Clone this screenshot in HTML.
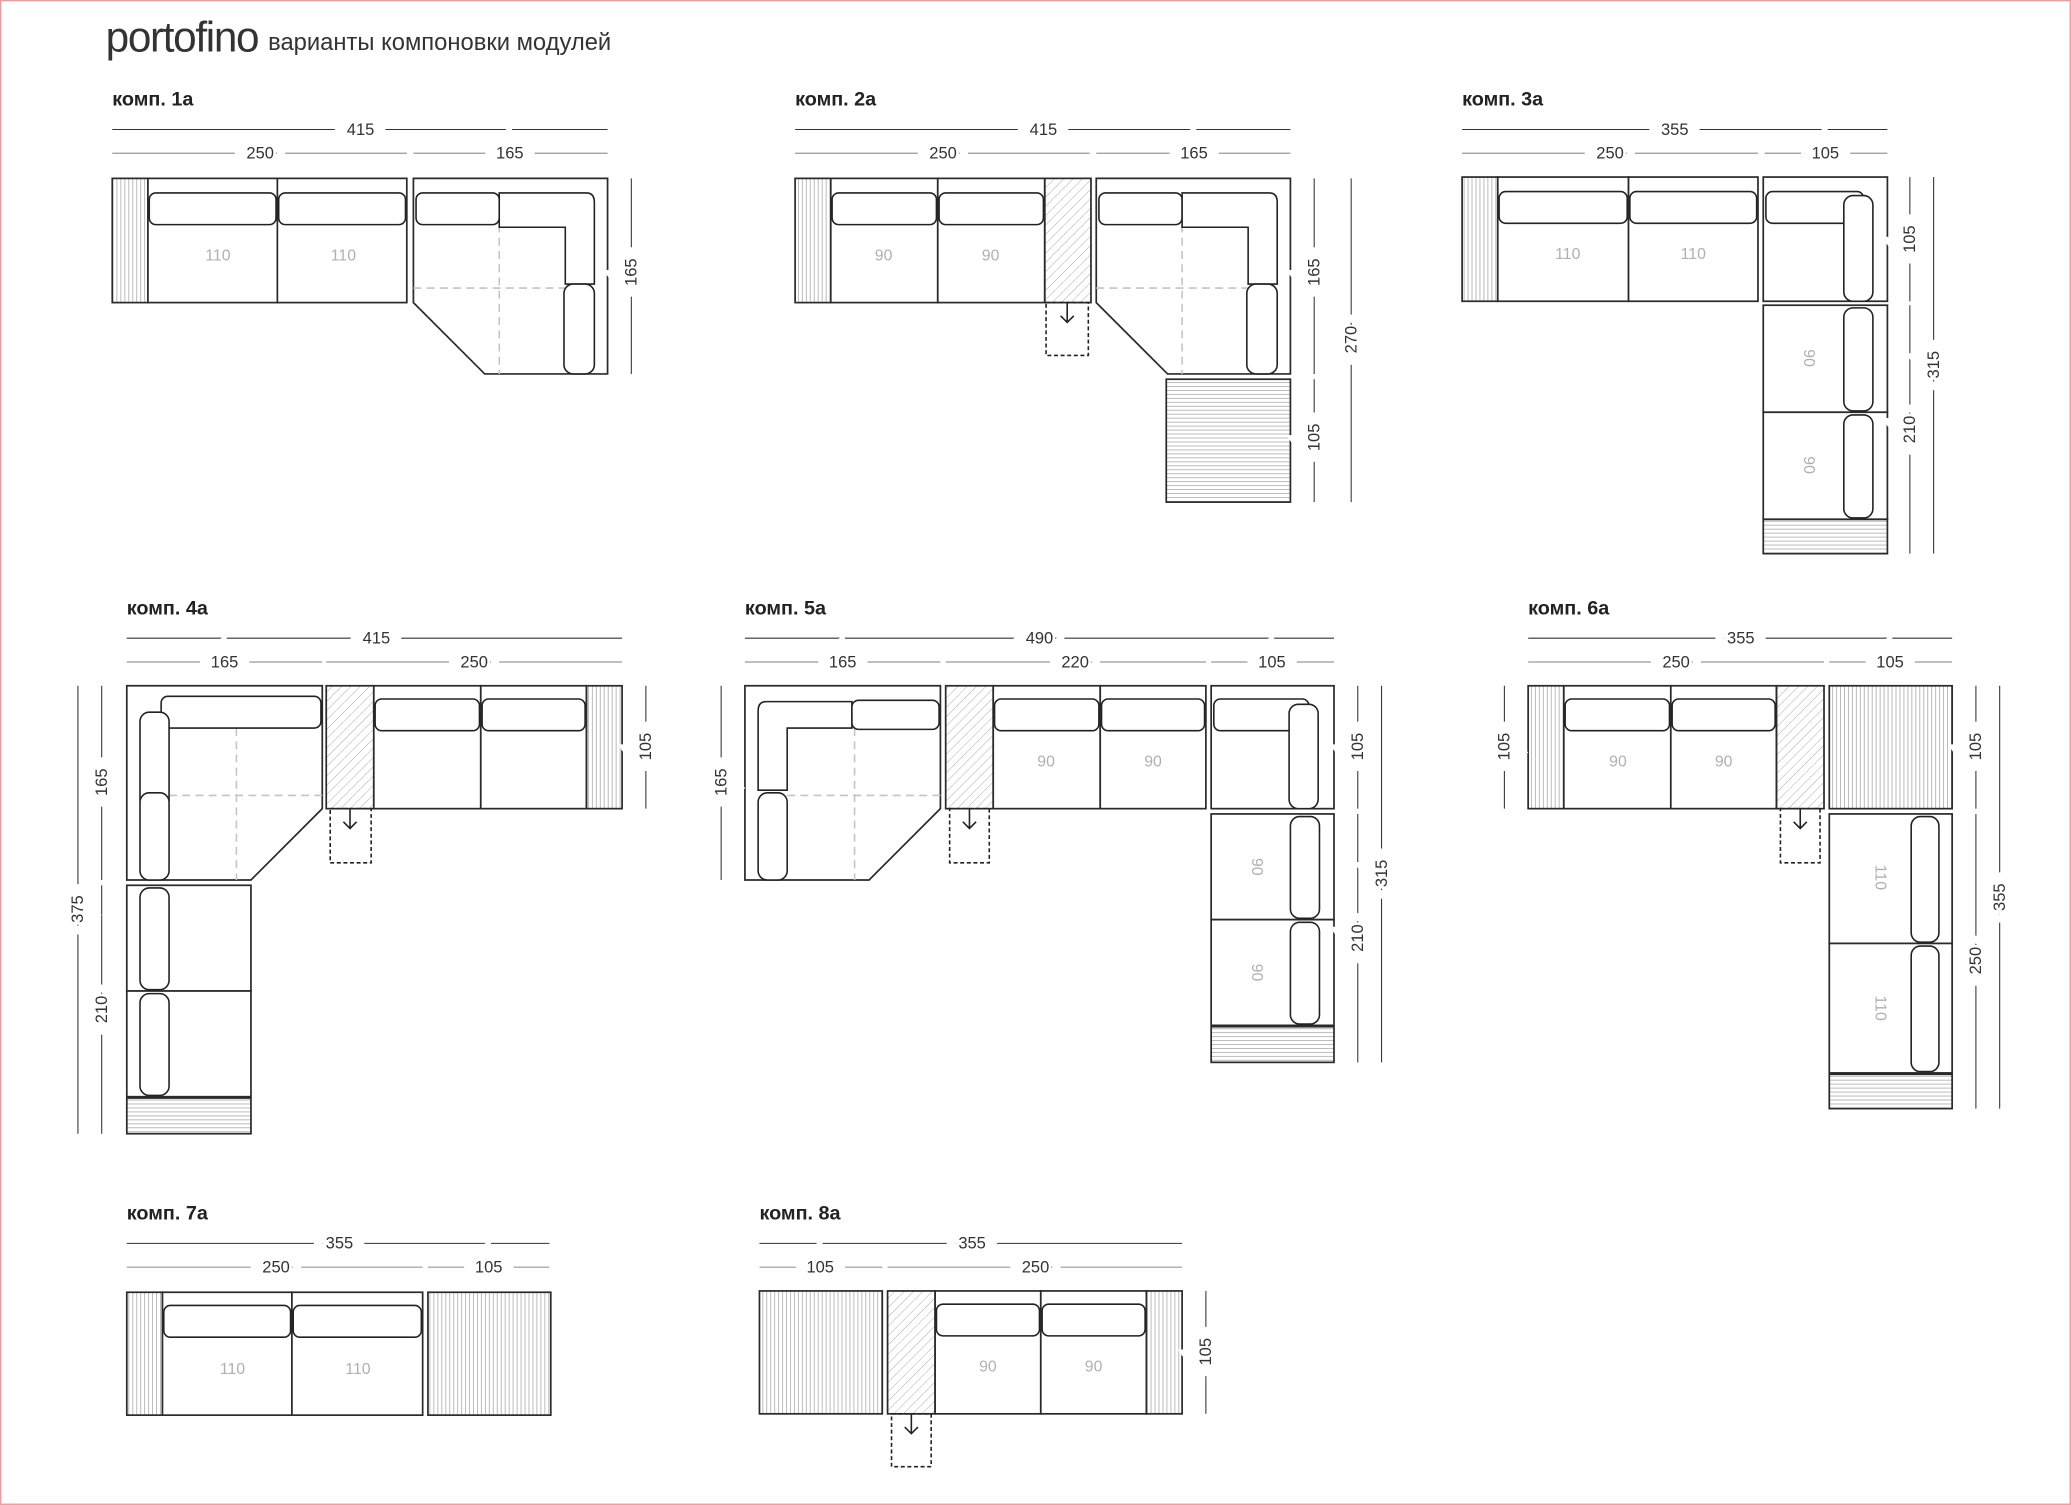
<!DOCTYPE html>
<html><head><meta charset="utf-8"><style>
html,body{margin:0;padding:0;background:#fff}
svg{display:block}
.m{fill:#fff;stroke:#2a2a2a;stroke-width:1.3}
.c{fill:#fff;stroke:#222;stroke-width:1.2}
.dd{stroke:#c4c4c4;stroke-width:1.2;stroke-dasharray:6 4;fill:none}
.d1{stroke:#333;stroke-width:0.8}
.d2{stroke:#999;stroke-width:0.9}
.t{font-family:"Liberation Sans",sans-serif;font-size:12.5px;fill:#333;text-anchor:middle}
.s{font-family:"Liberation Sans",sans-serif;font-size:12px;fill:#b0b0b0;text-anchor:middle}
.h{font-family:"Liberation Sans",sans-serif;font-size:15px;font-weight:bold;fill:#222}
.dr{fill:none;stroke:#222;stroke-width:1.2;stroke-dasharray:3 2}
.ar{fill:none;stroke:#222;stroke-width:1.2}
</style></head><body>
<svg width="2071" height="1505" viewBox="0 0 1568 1139" preserveAspectRatio="none" xmlns="http://www.w3.org/2000/svg">
<defs>
<pattern id="pv" patternUnits="userSpaceOnUse" width="3" height="3"><line x1="1.5" y1="0" x2="1.5" y2="3" stroke="#aaa" stroke-width="0.6"/></pattern>
<pattern id="ph" patternUnits="userSpaceOnUse" width="3" height="3"><line x1="0" y1="1.5" x2="3" y2="1.5" stroke="#aaa" stroke-width="0.6"/></pattern>
<pattern id="pd" patternUnits="userSpaceOnUse" width="5" height="5" patternTransform="rotate(45)"><line x1="0" y1="0" x2="0" y2="5" stroke="#999" stroke-width="0.6"/></pattern>
</defs>
<rect x="0.5" y="0.5" width="1567" height="1138" fill="none" stroke="#e8a0a0" stroke-width="1.2"/>
<text x="80" y="39" font-family="Liberation Sans,sans-serif" font-size="32" fill="#333" font-weight="normal" style="letter-spacing:-1px">portofino</text>
<text x="203" y="38" font-family="Liberation Sans,sans-serif" font-size="18" fill="#333">варианты компоновки модулей</text>

<!-- ===== 1a ===== -->
<text class="h" x="85" y="80">комп. 1а</text>
<line class="d1" x1="85" y1="98" x2="460" y2="98"/><text class="t" x="273" y="102" stroke="#fff" stroke-width="18" paint-order="stroke">415</text>
<line class="d2" x1="85" y1="116" x2="308" y2="116"/><line class="d2" x1="313" y1="116" x2="460" y2="116"/>
<text class="t" x="197" y="120" stroke="#fff" stroke-width="18" paint-order="stroke">250</text><text class="t" x="386" y="120" stroke="#fff" stroke-width="18" paint-order="stroke">165</text>
<rect class="m" x="85" y="135" width="27" height="94" fill="url(#pv)" style="fill:url(#pv)"/>
<rect class="m" x="112" y="135" width="98" height="94"/><rect class="m" x="210" y="135" width="98" height="94"/>
<rect class="c" x="113" y="146" width="96" height="24" rx="5"/><rect class="c" x="211" y="146" width="96" height="24" rx="5"/>
<text class="s" x="165" y="197">110</text><text class="s" x="260" y="197">110</text>
<path class="m" d="M313,135H460V283H367L313,229Z"/>
<line class="dd" x1="313" y1="218" x2="428" y2="218"/><line class="dd" x1="378" y1="170" x2="378" y2="283"/>
<rect class="c" x="315" y="146" width="63" height="24" rx="5"/>
<path class="c" d="M378,146H444Q450,146 450,153V215H428V172H378Z"/>
<rect class="c" x="427" y="215" width="23" height="68" rx="7"/>
<line class="d1" x1="478" y1="135" x2="478" y2="283"/><text class="t" transform="translate(482,206) rotate(-90)" stroke="#fff" stroke-width="18" paint-order="stroke">165</text>

<!-- ===== 2a ===== -->
<text class="h" x="602" y="80">комп. 2а</text>
<line class="d1" x1="602" y1="98" x2="977" y2="98"/><text class="t" x="790" y="102" stroke="#fff" stroke-width="18" paint-order="stroke">415</text>
<line class="d2" x1="602" y1="116" x2="825" y2="116"/><line class="d2" x1="830" y1="116" x2="977" y2="116"/>
<text class="t" x="714" y="120" stroke="#fff" stroke-width="18" paint-order="stroke">250</text><text class="t" x="904" y="120" stroke="#fff" stroke-width="18" paint-order="stroke">165</text>
<rect class="m" x="602" y="135" width="27" height="94" style="fill:url(#pv)"/>
<rect class="m" x="629" y="135" width="81" height="94"/><rect class="m" x="710" y="135" width="81" height="94"/>
<rect class="c" x="630" y="146" width="79" height="24" rx="5"/><rect class="c" x="711" y="146" width="79" height="24" rx="5"/>
<text class="s" x="669" y="197">90</text><text class="s" x="750" y="197">90</text>
<rect class="m" x="791" y="135" width="35" height="94" style="fill:url(#pd)"/>
<rect class="dr" x="792" y="229" width="32" height="40"/><path class="ar" d="M808,229V244M803,239L808,244L813,239"/>
<path class="m" d="M830,135H977V283H884L830,229Z"/>
<line class="dd" x1="830" y1="218" x2="945" y2="218"/><line class="dd" x1="895" y1="170" x2="895" y2="283"/>
<rect class="c" x="832" y="146" width="63" height="24" rx="5"/>
<path class="c" d="M895,146H961Q967,146 967,153V215H945V172H895Z"/>
<rect class="c" x="944" y="215" width="23" height="68" rx="7"/>
<rect class="m" x="883" y="287" width="94" height="93" style="fill:url(#ph)"/>
<line class="d1" x1="995" y1="135" x2="995" y2="283"/><text class="t" transform="translate(999,206) rotate(-90)" stroke="#fff" stroke-width="18" paint-order="stroke">165</text>
<line class="d1" x1="995" y1="287" x2="995" y2="380"/><text class="t" transform="translate(999,331) rotate(-90)" stroke="#fff" stroke-width="18" paint-order="stroke">105</text>
<line class="d1" x1="1023" y1="135" x2="1023" y2="380"/><text class="t" transform="translate(1027,257) rotate(-90)" stroke="#fff" stroke-width="18" paint-order="stroke">270</text>

<!-- ===== 3a ===== -->
<text class="h" x="1107" y="80">комп. 3а</text>
<line class="d1" x1="1107" y1="98" x2="1429" y2="98"/><text class="t" x="1268" y="102" stroke="#fff" stroke-width="18" paint-order="stroke">355</text>
<line class="d2" x1="1107" y1="116" x2="1331" y2="116"/><line class="d2" x1="1336" y1="116" x2="1429" y2="116"/>
<text class="t" x="1219" y="120" stroke="#fff" stroke-width="18" paint-order="stroke">250</text><text class="t" x="1382" y="120" stroke="#fff" stroke-width="18" paint-order="stroke">105</text>
<rect class="m" x="1107" y="134" width="27" height="94" style="fill:url(#pv)"/>
<rect class="m" x="1134" y="134" width="99" height="94"/><rect class="m" x="1233" y="134" width="98" height="94"/>
<rect class="c" x="1135" y="145" width="97" height="24" rx="5"/><rect class="c" x="1234" y="145" width="96" height="24" rx="5"/>
<text class="s" x="1187" y="196">110</text><text class="s" x="1282" y="196">110</text>
<rect class="m" x="1335" y="134" width="94" height="94"/>
<rect class="c" x="1337" y="145" width="74" height="24" rx="5"/>
<rect class="c" x="1396" y="148" width="22" height="80" rx="7"/>
<rect class="m" x="1335" y="231" width="94" height="81"/><rect class="m" x="1335" y="312" width="94" height="81"/>
<rect class="c" x="1396" y="233" width="22" height="78" rx="7"/><rect class="c" x="1396" y="314" width="22" height="78" rx="7"/>
<text class="s" transform="translate(1366,271) rotate(90)">90</text><text class="s" transform="translate(1366,352) rotate(90)">90</text>
<rect class="m" x="1335" y="393" width="94" height="26" style="fill:url(#ph)"/>
<line class="d1" x1="1446" y1="134" x2="1446" y2="228"/><text class="t" transform="translate(1450,181) rotate(-90)" stroke="#fff" stroke-width="18" paint-order="stroke">105</text>
<line class="d1" x1="1446" y1="231" x2="1446" y2="419"/><text class="t" transform="translate(1450,325) rotate(-90)" stroke="#fff" stroke-width="18" paint-order="stroke">210</text>
<line class="d1" x1="1464" y1="134" x2="1464" y2="419"/><text class="t" transform="translate(1468,276) rotate(-90)" stroke="#fff" stroke-width="18" paint-order="stroke">315</text>

<!-- ===== 4a ===== -->
<text class="h" x="96" y="465">комп. 4а</text>
<line class="d1" x1="96" y1="483" x2="471" y2="483"/><text class="t" x="285" y="487" stroke="#fff" stroke-width="18" paint-order="stroke">415</text>
<line class="d2" x1="96" y1="501" x2="244" y2="501"/><line class="d2" x1="247" y1="501" x2="471" y2="501"/>
<text class="t" x="170" y="505" stroke="#fff" stroke-width="18" paint-order="stroke">165</text><text class="t" x="359" y="505" stroke="#fff" stroke-width="18" paint-order="stroke">250</text>
<path class="m" d="M96,519H244V612L190,666H96Z"/>
<line class="dd" x1="128" y1="602" x2="244" y2="602"/><line class="dd" x1="179" y1="551" x2="179" y2="666"/>
<rect class="c" x="122" y="527" width="121" height="24" rx="5"/>
<rect class="c" x="106" y="539" width="22" height="73" rx="7"/><rect class="c" x="106" y="600" width="22" height="66" rx="7"/>
<rect class="m" x="247" y="519" width="36" height="93" style="fill:url(#pd)"/>
<rect class="dr" x="250" y="612" width="31" height="41"/><path class="ar" d="M265,612V627M260,622L265,627L270,622"/>
<rect class="m" x="283" y="519" width="81" height="93"/><rect class="m" x="364" y="519" width="80" height="93"/>
<rect class="c" x="284" y="529" width="79" height="24" rx="5"/><rect class="c" x="365" y="529" width="78" height="24" rx="5"/>
<rect class="m" x="444" y="519" width="27" height="93" style="fill:url(#pv)"/>
<line class="d1" x1="489" y1="519" x2="489" y2="612"/><text class="t" transform="translate(493,565) rotate(-90)" stroke="#fff" stroke-width="18" paint-order="stroke">105</text>
<rect class="m" x="96" y="670" width="94" height="80"/><rect class="m" x="96" y="750" width="94" height="80"/>
<rect class="c" x="106" y="672" width="22" height="77" rx="7"/><rect class="c" x="106" y="752" width="22" height="77" rx="7"/>
<rect class="m" x="96" y="831" width="94" height="27" style="fill:url(#ph)"/>
<line class="d1" x1="77" y1="519" x2="77" y2="666"/><text class="t" transform="translate(81,592) rotate(-90)" stroke="#fff" stroke-width="18" paint-order="stroke">165</text>
<line class="d1" x1="77" y1="670" x2="77" y2="858"/><text class="t" transform="translate(81,764) rotate(-90)" stroke="#fff" stroke-width="18" paint-order="stroke">210</text>
<line class="d1" x1="59" y1="519" x2="59" y2="858"/><text class="t" transform="translate(63,688) rotate(-90)" stroke="#fff" stroke-width="18" paint-order="stroke">375</text>

<!-- ===== 5a ===== -->
<text class="h" x="564" y="465">комп. 5а</text>
<line class="d1" x1="564" y1="483" x2="1010" y2="483"/><text class="t" x="787" y="487" stroke="#fff" stroke-width="18" paint-order="stroke">490</text>
<line class="d2" x1="564" y1="501" x2="712" y2="501"/><line class="d2" x1="716" y1="501" x2="913" y2="501"/><line class="d2" x1="917" y1="501" x2="1010" y2="501"/>
<text class="t" x="638" y="505" stroke="#fff" stroke-width="18" paint-order="stroke">165</text><text class="t" x="814" y="505" stroke="#fff" stroke-width="18" paint-order="stroke">220</text><text class="t" x="963" y="505" stroke="#fff" stroke-width="18" paint-order="stroke">105</text>
<path class="m" d="M564,519H712V612L658,666H564Z"/>
<line class="dd" x1="596" y1="602" x2="712" y2="602"/><line class="dd" x1="647" y1="551" x2="647" y2="666"/>
<path class="c" d="M580,531H645V551H596V598H574V538Q574,531 580,531Z"/>
<rect class="c" x="645" y="530" width="66" height="22" rx="5"/>
<rect class="c" x="574" y="600" width="22" height="66" rx="7"/>
<rect class="m" x="716" y="519" width="36" height="93" style="fill:url(#pd)"/>
<rect class="dr" x="719" y="612" width="30" height="41"/><path class="ar" d="M734,612V627M729,622L734,627L739,622"/>
<rect class="m" x="752" y="519" width="81" height="93"/><rect class="m" x="833" y="519" width="80" height="93"/>
<rect class="c" x="753" y="529" width="79" height="24" rx="5"/><rect class="c" x="834" y="529" width="78" height="24" rx="5"/>
<text class="s" x="792" y="580">90</text><text class="s" x="873" y="580">90</text>
<rect class="m" x="917" y="519" width="93" height="93"/>
<rect class="c" x="919" y="529" width="72" height="24" rx="5"/><rect class="c" x="976" y="533" width="22" height="79" rx="7"/>
<rect class="m" x="917" y="616" width="93" height="80"/><rect class="m" x="917" y="696" width="93" height="80"/>
<rect class="c" x="977" y="618" width="22" height="77" rx="7"/><rect class="c" x="977" y="698" width="22" height="77" rx="7"/>
<text class="s" transform="translate(948,656) rotate(90)">90</text><text class="s" transform="translate(948,736) rotate(90)">90</text>
<rect class="m" x="917" y="777" width="93" height="27" style="fill:url(#ph)"/>
<line class="d1" x1="546" y1="519" x2="546" y2="666"/><text class="t" transform="translate(550,592) rotate(-90)" stroke="#fff" stroke-width="18" paint-order="stroke">165</text>
<line class="d1" x1="1028" y1="519" x2="1028" y2="612"/><text class="t" transform="translate(1032,565) rotate(-90)" stroke="#fff" stroke-width="18" paint-order="stroke">105</text>
<line class="d1" x1="1028" y1="616" x2="1028" y2="804"/><text class="t" transform="translate(1032,710) rotate(-90)" stroke="#fff" stroke-width="18" paint-order="stroke">210</text>
<line class="d1" x1="1046" y1="519" x2="1046" y2="804"/><text class="t" transform="translate(1050,661) rotate(-90)" stroke="#fff" stroke-width="18" paint-order="stroke">315</text>

<!-- ===== 6a ===== -->
<text class="h" x="1157" y="465">комп. 6а</text>
<line class="d1" x1="1157" y1="483" x2="1478" y2="483"/><text class="t" x="1318" y="487" stroke="#fff" stroke-width="18" paint-order="stroke">355</text>
<line class="d2" x1="1157" y1="501" x2="1381" y2="501"/><line class="d2" x1="1385" y1="501" x2="1478" y2="501"/>
<text class="t" x="1269" y="505" stroke="#fff" stroke-width="18" paint-order="stroke">250</text><text class="t" x="1431" y="505" stroke="#fff" stroke-width="18" paint-order="stroke">105</text>
<rect class="m" x="1157" y="519" width="27" height="93" style="fill:url(#pv)"/>
<rect class="m" x="1184" y="519" width="81" height="93"/><rect class="m" x="1265" y="519" width="80" height="93"/>
<rect class="c" x="1185" y="529" width="79" height="24" rx="5"/><rect class="c" x="1266" y="529" width="78" height="24" rx="5"/>
<text class="s" x="1225" y="580">90</text><text class="s" x="1305" y="580">90</text>
<rect class="m" x="1345" y="519" width="36" height="93" style="fill:url(#pd)"/>
<rect class="dr" x="1348" y="612" width="30" height="41"/><path class="ar" d="M1363,612V627M1358,622L1363,627L1368,622"/>
<rect class="m" x="1385" y="519" width="93" height="93" style="fill:url(#pv)"/>
<rect class="m" x="1385" y="616" width="93" height="98"/><rect class="m" x="1385" y="714" width="93" height="98"/>
<rect class="c" x="1447" y="618" width="21" height="95" rx="7"/><rect class="c" x="1447" y="716" width="21" height="95" rx="7"/>
<text class="s" transform="translate(1420,664) rotate(90)">110</text><text class="s" transform="translate(1420,763) rotate(90)">110</text>
<rect class="m" x="1385" y="813" width="93" height="26" style="fill:url(#ph)"/>
<line class="d1" x1="1139" y1="519" x2="1139" y2="612"/><text class="t" transform="translate(1143,565) rotate(-90)" stroke="#fff" stroke-width="18" paint-order="stroke">105</text>
<line class="d1" x1="1496" y1="519" x2="1496" y2="612"/><text class="t" transform="translate(1500,565) rotate(-90)" stroke="#fff" stroke-width="18" paint-order="stroke">105</text>
<line class="d1" x1="1496" y1="616" x2="1496" y2="839"/><text class="t" transform="translate(1500,727) rotate(-90)" stroke="#fff" stroke-width="18" paint-order="stroke">250</text>
<line class="d1" x1="1514" y1="519" x2="1514" y2="839"/><text class="t" transform="translate(1518,679) rotate(-90)" stroke="#fff" stroke-width="18" paint-order="stroke">355</text>

<!-- ===== 7a ===== -->
<text class="h" x="96" y="923">комп. 7а</text>
<line class="d1" x1="96" y1="941" x2="416" y2="941"/><text class="t" x="257" y="945" stroke="#fff" stroke-width="18" paint-order="stroke">355</text>
<line class="d2" x1="96" y1="959" x2="320" y2="959"/><line class="d2" x1="324" y1="959" x2="416" y2="959"/>
<text class="t" x="209" y="963" stroke="#fff" stroke-width="18" paint-order="stroke">250</text><text class="t" x="370" y="963" stroke="#fff" stroke-width="18" paint-order="stroke">105</text>
<rect class="m" x="96" y="978" width="27" height="93" style="fill:url(#pv)"/>
<rect class="m" x="123" y="978" width="98" height="93"/><rect class="m" x="221" y="978" width="99" height="93"/>
<rect class="c" x="124" y="988" width="96" height="24" rx="5"/><rect class="c" x="222" y="988" width="97" height="24" rx="5"/>
<text class="s" x="176" y="1040">110</text><text class="s" x="271" y="1040">110</text>
<rect class="m" x="324" y="978" width="93" height="93" style="fill:url(#pv)"/>

<!-- ===== 8a ===== -->
<text class="h" x="575" y="923">комп. 8а</text>
<line class="d1" x1="575" y1="941" x2="895" y2="941"/><text class="t" x="736" y="945" stroke="#fff" stroke-width="18" paint-order="stroke">355</text>
<line class="d2" x1="575" y1="959" x2="668" y2="959"/><line class="d2" x1="672" y1="959" x2="895" y2="959"/>
<text class="t" x="621" y="963" stroke="#fff" stroke-width="18" paint-order="stroke">105</text><text class="t" x="784" y="963" stroke="#fff" stroke-width="18" paint-order="stroke">250</text>
<rect class="m" x="575" y="977" width="93" height="93" style="fill:url(#pv)"/>
<rect class="m" x="672" y="977" width="36" height="93" style="fill:url(#pd)"/>
<rect class="dr" x="675" y="1070" width="30" height="40"/><path class="ar" d="M690,1070V1085M685,1080L690,1085L695,1080"/>
<rect class="m" x="708" y="977" width="80" height="93"/><rect class="m" x="788" y="977" width="80" height="93"/>
<rect class="c" x="709" y="987" width="78" height="24" rx="5"/><rect class="c" x="789" y="987" width="78" height="24" rx="5"/>
<text class="s" x="748" y="1038">90</text><text class="s" x="828" y="1038">90</text>
<rect class="m" x="868" y="977" width="27" height="93" style="fill:url(#pv)"/>
<line class="d1" x1="913" y1="977" x2="913" y2="1070"/><text class="t" transform="translate(917,1023) rotate(-90)" stroke="#fff" stroke-width="18" paint-order="stroke">105</text>
</svg>
</body></html>
